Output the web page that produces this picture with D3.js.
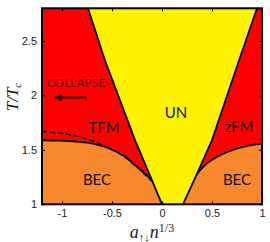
<!DOCTYPE html>
<html><head><meta charset="utf-8">
<script src="https://cdn.jsdelivr.net/npm/d3@7"></script>
<style>html,body{margin:0;padding:0;background:#fff;}svg{display:block;}</style>
</head><body>
<script>
// ---- data ----
const xTicks = [-1, -0.5, 0, 0.5, 1];
const xTickLabels = ["-1", "-0.5", "0", "0.5", "1"];
const yTicks = [1, 1.5, 2, 2.5];
const yTickLabels = ["1", "1.5", "2", "2.5"];
// UN boundary, left side (a n^1/3, T/Tc)
const unLeftX = [0, -0.1, -0.27, -0.57, -0.74];
const unLeftY = [1, 1.22, 1.59, 2.32, 2.8];
// UN boundary, right side
const unRightX = [0.21, 0.35, 0.5, 0.77, 0.95];
const unRightY = [1, 1.28, 1.59, 2.32, 2.8];
// BEC boundary left (solid)
const becLeftX = [-1.2, -1.0, -0.887, -0.75, -0.62, -0.52, -0.42, -0.35, -0.287, -0.22, -0.153, -0.1];
const becLeftY = [1.588, 1.584, 1.579, 1.566, 1.542, 1.51, 1.465, 1.425, 1.373, 1.322, 1.266, 1.22];
// BEC boundary left (dashed)
const dashX = [-1.2, -1.0, -0.887, -0.75, -0.62, -0.52, -0.42, -0.35, -0.287, -0.22, -0.153, -0.1];
const dashY = [1.67, 1.65, 1.634, 1.6, 1.557, 1.512, 1.462, 1.42, 1.368, 1.316, 1.258, 1.212];
// BEC boundary right (solid)
const becRightX = [0.35, 0.447, 0.547, 0.647, 0.747, 0.87, 1.0];
const becRightY = [1.28, 1.374, 1.434, 1.478, 1.511, 1.538, 1.557];
// region labels
const labelText = ["UN", "TFM", "zFM", "BEC", "BEC"];
const labelX = [0.14, -0.58, 0.77, -0.65, 0.75];
const labelY = [1.85, 1.71, 1.72, 1.23, 1.23];
const collapseText = "COLLAPSE";
const collapseX = -0.86, collapseY = 2.12;
const arrowX = [-0.75, -1.06], arrowY = [1.98, 1.98];

// ---- drawing ----
const W = 270, H = 242;
const xDom = [-1.2, 1], yDom = [1, 2.8];
const x = d3.scaleLinear().domain(xDom).range([42, 262]);
const y = d3.scaleLinear().domain(yDom).range([204.3, 8.3]);
const RED = "#FF0000", YEL = "#FFF200", ORA = "#F7882D";

const svg = d3.select("body").append("svg").attr("width", W).attr("height", H);
const defs = svg.append("defs");
defs.append("clipPath").attr("id", "clip").append("rect")
  .attr("x", x(xDom[0])).attr("y", y(yDom[1]))
  .attr("width", x(xDom[1]) - x(xDom[0])).attr("height", y(yDom[0]) - y(yDom[1]));
defs.append("marker").attr("id", "ah").attr("viewBox", "0 0 10 10").attr("refX", 8).attr("refY", 5)
  .attr("markerWidth", 4).attr("markerHeight", 4).attr("orient", "auto")
  .append("path").attr("d", "M0,0L10,5L0,10z").attr("fill", "#1a0000");

const zip = (xs, ys) => xs.map((v, i) => [v, ys[i]]);
const line = d3.line().x(d => x(d[0])).y(d => y(d[1]));
const g = svg.append("g").attr("clip-path", "url(#clip)");

// background red (TFM / zFM)
g.append("rect").attr("x", x(xDom[0])).attr("y", y(yDom[1]))
  .attr("width", x(xDom[1]) - x(xDom[0])).attr("height", y(yDom[0]) - y(yDom[1])).attr("fill", RED);

// yellow UN
const unLeft = zip(unLeftX, unLeftY), unRight = zip(unRightX, unRightY);
g.append("path").attr("d", line(unLeft.concat(unRight.slice().reverse())) + "Z").attr("fill", YEL);

// orange BEC left
const becL = zip(becLeftX, becLeftY);
const polyL = [[xDom[0], yDom[0]]].concat(becL, [[unLeftX[0], unLeftY[0]]]);
g.append("path").attr("d", line(polyL) + "Z").attr("fill", ORA);

// orange BEC right
const becR = zip(becRightX, becRightY);
const polyR = [[unRightX[0], unRightY[0]]].concat(becR, [[xDom[1], yDom[0]]]);
g.append("path").attr("d", line(polyR) + "Z").attr("fill", ORA);

// lines
const curve = d3.line().x(d => x(d[0])).y(d => y(d[1])).curve(d3.curveMonotoneX);
g.append("path").attr("d", line(unLeft)).attr("fill", "none").attr("stroke", "#000").attr("stroke-width", 1.8);
g.append("path").attr("d", line(unRight)).attr("fill", "none").attr("stroke", "#000").attr("stroke-width", 1.8);
g.append("path").attr("d", curve(becL)).attr("fill", "none").attr("stroke", "#000").attr("stroke-width", 1.8);
g.append("path").attr("d", curve(becR)).attr("fill", "none").attr("stroke", "#000").attr("stroke-width", 1.8);
g.append("path").attr("d", curve(zip(dashX, dashY))).attr("fill", "none").attr("stroke", "#000")
  .attr("stroke-width", 1.6).attr("stroke-dasharray", "5,3");

// labels
labelText.forEach((t, i) => {
  svg.append("text").attr("x", x(labelX[i])).attr("y", y(labelY[i]))
    .attr("text-anchor", "middle").attr("dominant-baseline", "central")
    .attr("font-family", "Lato, 'Open Sans', sans-serif").attr("font-size", 15).attr("fill", "#111").text(t);
});
svg.append("text").attr("x", x(collapseX)).attr("y", y(collapseY))
  .attr("text-anchor", "middle").attr("dominant-baseline", "central")
  .attr("font-family", "Lato, sans-serif").attr("font-size", 12).attr("fill", "#7a0000").text(collapseText);
svg.append("line").attr("x1", x(arrowX[0])).attr("y1", y(arrowY[0]))
  .attr("x2", x(arrowX[1])).attr("y2", y(arrowY[1]))
  .attr("stroke", "#1a0000").attr("stroke-width", 2).attr("marker-end", "url(#ah)");

// axes
const axB = svg.append("g").attr("transform", `translate(0,${y(yDom[0])})`)
  .call(d3.axisBottom(x).tickValues(xTicks).tickFormat((d, i) => xTickLabels[i]).tickSizeInner(-3).tickSizeOuter(0).tickPadding(5));
const axT = svg.append("g").attr("transform", `translate(0,${y(yDom[1])})`)
  .call(d3.axisTop(x).tickValues(xTicks).tickFormat("").tickSizeInner(-3).tickSizeOuter(0));
const axL = svg.append("g").attr("transform", `translate(${x(xDom[0])},0)`)
  .call(d3.axisLeft(y).tickValues(yTicks).tickFormat((d, i) => yTickLabels[i]).tickSizeInner(-3).tickSizeOuter(0).tickPadding(5));
const axR = svg.append("g").attr("transform", `translate(${x(xDom[1])},0)`)
  .call(d3.axisRight(y).tickValues(yTicks).tickFormat("").tickSizeInner(-3).tickSizeOuter(0));
[axB, axT, axL, axR].forEach(a => {
  a.select(".domain").remove();
  a.selectAll(".tick line").attr("stroke", "#000").attr("stroke-width", 1);
  a.selectAll("text").attr("font-family", "'Liberation Sans', Arial, sans-serif").attr("font-size", 11).attr("fill", "#222");
});
// frame
svg.append("rect").attr("x", x(xDom[0])).attr("y", y(yDom[1]))
  .attr("width", x(xDom[1]) - x(xDom[0])).attr("height", y(yDom[0]) - y(yDom[1]))
  .attr("fill", "none").attr("stroke", "#000").attr("stroke-width", 2);

// axis titles
const xl = svg.append("text").attr("x", 152).attr("y", 238).attr("text-anchor", "middle")
  .attr("font-family", "'Liberation Serif', 'Times New Roman', serif").attr("font-size", 18).attr("fill", "#222");
xl.append("tspan").attr("font-style", "italic").text("a");
xl.append("tspan").attr("font-size", 11).attr("dy", 3).text("↑↓");
xl.append("tspan").attr("font-style", "italic").attr("dy", -3).text("n");
xl.append("tspan").attr("font-size", 12).attr("dy", -6).text("1/3");

const yl = svg.append("text").attr("transform", "translate(18,97) rotate(-90)").attr("text-anchor", "middle")
  .attr("font-family", "'Liberation Serif', 'Times New Roman', serif").attr("font-size", 17).attr("fill", "#222");
yl.append("tspan").attr("font-style", "italic").text("T/T");
yl.append("tspan").attr("font-style", "italic").attr("font-size", 11).attr("dy", 3).text("c");
</script>
</body></html>
